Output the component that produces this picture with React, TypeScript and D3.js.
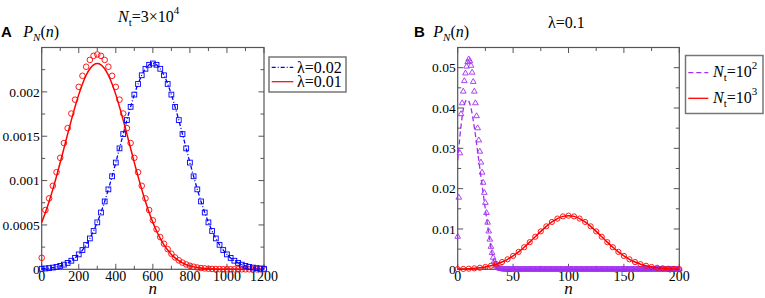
import React from "react";
import * as d3 from "d3";

// ---------- Panel A data (n step 20, 0..1200) ----------
const nA = d3.range(0, 1201, 20);
const blueA = [
  0.0000063, 0.0000093, 0.0000135, 0.0000193, 0.0000274, 0.0000383, 0.0000528, 0.0000719, 0.0000966, 0.000128,
  0.000168, 0.000217, 0.000276, 0.000348, 0.000432, 0.000529, 0.00064, 0.000765, 0.000901, 0.001048,
  0.001203, 0.001363, 0.001524, 0.001682, 0.001831, 0.001969, 0.002089, 0.002187, 0.00226, 0.002305,
  0.00232,
  0.002305, 0.00226, 0.002187, 0.002089, 0.001969, 0.001831, 0.001682, 0.001524, 0.001363, 0.001203,
  0.001048, 0.000901, 0.000765, 0.00064, 0.000529, 0.000432, 0.000348, 0.000276, 0.000217, 0.000168,
  0.000128, 0.0000966, 0.0000719, 0.0000528, 0.0000383, 0.0000274, 0.0000193, 0.0000135, 0.0000093, 0.0000063,
];
const redLineA = [
  0.000529, 0.00064, 0.000765, 0.000901, 0.001048, 0.001203, 0.001363, 0.001524, 0.001682, 0.001831,
  0.001969, 0.002089, 0.002187, 0.00226, 0.002305, 0.00232, 0.002305, 0.00226, 0.002187, 0.002089,
  0.001969, 0.001831, 0.001682, 0.001524, 0.001363, 0.001203, 0.001048, 0.000901, 0.000765, 0.00064,
  0.000529, 0.000432, 0.000348, 0.000276, 0.000217, 0.000168, 0.000128, 0.0000966, 0.0000719, 0.0000528,
  0.0000383, 0.0000274, 0.0000193, 0.0000135, 0.0000093, 0.0000063, 0.000004, 0.0000027, 0.0000017, 0.0000011,
  0.0000007, 0.0000004, 0.0000002, 0.0000001, 0.0000001, 0, 0, 0, 0, 0, 0,
];
const redPtsA = [
  0.00013, 0.000668, 0.000799, 0.000941, 0.001094, 0.001256, 0.001423, 0.001591, 0.001756, 0.001912,
  0.002056, 0.002181, 0.002283, 0.00236, 0.002406, 0.002422, 0.002406, 0.00236, 0.002283, 0.002181,
  0.002056, 0.001912, 0.001756, 0.001591, 0.001423, 0.001256, 0.001094, 0.000941, 0.000799, 0.000668,
  0.000552, 0.000451, 0.000363, 0.000288, 0.000227, 0.000175, 0.000134, 0.000101, 0.000075, 0.000055,
  0.00004, 0.000029, 0.00002, 0.000014, 0.00001, 0.0000066, 0.000004, 0.000003, 0.000002, 0.000001,
  0.0000007, 0.0000004, 0.0000002, 0.0000001, 0.0000001, 0, 0, 0, 0, 0, 0,
];
const xTicksA = [0, 200, 400, 600, 800, 1000, 1200];
const yTicksA = [0, 0.0005, 0.001, 0.0015, 0.002];
const yTickLabelsA = ["0", "0.0005", "0.001", "0.0015", "0.002"];

// ---------- Panel B data ----------
const nBred = d3.range(0, 201, 5);
const redB = [
  0.000051, 0.000088, 0.000148, 0.00024, 0.00038, 0.000584, 0.000874, 0.00127, 0.0018, 0.00248,
  0.00332, 0.00432, 0.00547, 0.00673, 0.00807, 0.0094, 0.01065, 0.01174, 0.01258, 0.01312,
  0.0133,
  0.01312, 0.01258, 0.01174, 0.01065, 0.0094, 0.00807, 0.00673, 0.00547, 0.00432, 0.00332,
  0.00248, 0.0018, 0.00127, 0.000874, 0.000584, 0.00038, 0.00024, 0.000148, 0.000088, 0.000051,
];
const nBtri = d3.range(0, 201, 1);
const purpleTri = [
  0.0081, 0.0178, 0.0288, 0.0385, 0.0412, 0.0441, 0.0467, 0.0486, 0.0503, 0.0514,
  0.0521, 0.0516, 0.0505, 0.0488, 0.0465, 0.0441, 0.0412, 0.038, 0.035, 0.032,
  0.0292, 0.0265, 0.024, 0.0215, 0.019, 0.0165, 0.014, 0.0116, 0.0094, 0.0074,
  0.0056, 0.0041, 0.0029, 0.002, 0.0013, 0.0008, 0.0005, 0.0003, 0.0002, 0.0001,
  0.0001,
  0, 0, 0, 0, 0, 0, 0, 0, 0, 0, 0, 0, 0, 0, 0, 0, 0, 0, 0, 0,
  0, 0, 0, 0, 0, 0, 0, 0, 0, 0, 0, 0, 0, 0, 0, 0, 0, 0, 0, 0,
  0, 0, 0, 0, 0, 0, 0, 0, 0, 0, 0, 0, 0, 0, 0, 0, 0, 0, 0, 0,
  0, 0, 0, 0, 0, 0, 0, 0, 0, 0, 0, 0, 0, 0, 0, 0, 0, 0, 0, 0,
  0, 0, 0, 0, 0, 0, 0, 0, 0, 0, 0, 0, 0, 0, 0, 0, 0, 0, 0, 0,
  0, 0, 0, 0, 0, 0, 0, 0, 0, 0, 0, 0, 0, 0, 0, 0, 0, 0, 0, 0,
  0, 0, 0, 0, 0, 0, 0, 0, 0, 0, 0, 0, 0, 0, 0, 0, 0, 0, 0, 0,
  0, 0, 0, 0, 0, 0, 0, 0, 0, 0, 0, 0, 0, 0, 0, 0, 0, 0, 0, 0,
];
const nBline = [
  0, 1, 2, 3, 4, 5, 6, 7, 8, 9, 10, 11, 12, 13, 14, 15, 16, 17, 18, 19,
  20, 21, 22, 23, 24, 25, 26, 27, 28, 29, 30, 31, 32, 33, 34, 35, 36, 37, 40, 200,
];
const purpleLine = [
  0.027, 0.03, 0.033, 0.0355, 0.0378, 0.0396, 0.0408, 0.0416, 0.042, 0.042,
  0.0417, 0.041, 0.04, 0.0386, 0.037, 0.0352, 0.0333, 0.0313, 0.0292, 0.0271,
  0.025, 0.0229, 0.0208, 0.0188, 0.0168, 0.0148, 0.0128, 0.0108, 0.0089, 0.0071,
  0.0054, 0.0039, 0.0027, 0.0017, 0.001, 0.0005, 0.0002, 0.0001, 0, 0,
];
const xTicksB = [0, 50, 100, 150, 200];
const yTicksB = [0, 0.01, 0.02, 0.03, 0.04, 0.05];
const yTickLabelsB = ["0", "0.01", "0.02", "0.03", "0.04", "0.05"];

const RED = "#ff0000";
const BLUE = "#0000ff";
const PURPLE = "#a030f0";
const FRAME = "#555";
const SERIF_STYLE = { fontFamily: '"Liberation Serif"' };
const SANS_STYLE = { fontFamily: '"Liberation Sans"' };

const TOP = 47.5;
const BOTTOM = 269.3;

function Frame({ x, y, xTicks, xMinor, yTicks, yMinor, yLabels }: any) {
  const [x0, x1] = x.range();
  const [y0, y1] = y.range(); // y0 bottom, y1 top
  const maj = 5.5;
  const min = 3.5;
  return (
    <g>
      <rect x={x0} y={y1} width={x1 - x0} height={y0 - y1} fill="none" stroke={FRAME} strokeWidth={1.2} />
      {xMinor.map((t: number, i: number) => {
        const isMaj = xTicks.includes(t);
        const L = isMaj ? maj : min;
        return (
          <g key={"xm" + i}>
            <line x1={x(t)} x2={x(t)} y1={y0} y2={y0 - L} stroke={FRAME} />
            <line x1={x(t)} x2={x(t)} y1={y1} y2={y1 + L} stroke={FRAME} />
          </g>
        );
      })}
      {yMinor.map((t: number, i: number) => {
        const isMaj = yTicks.some((v: number) => Math.abs(v - t) < 1e-9);
        const L = isMaj ? maj : min;
        return (
          <g key={"ym" + i}>
            <line x1={x0} x2={x0 + L} y1={y(t)} y2={y(t)} stroke={FRAME} />
            <line x1={x1} x2={x1 - L} y1={y(t)} y2={y(t)} stroke={FRAME} />
          </g>
        );
      })}
      {xTicks.map((t: number, i: number) => (
        <text key={"xl" + i} x={x(t)} y={y0 + 12} textAnchor="middle" style={SERIF_STYLE} fontSize={14}>
          {t}
        </text>
      ))}
      {yTicks.map((t: number, i: number) => (
        <text key={"yl" + i} x={x0 - 2} y={y(t) + 4.8} textAnchor="end" style={SERIF_STYLE} fontSize={13.5}>
          {yLabels[i]}
        </text>
      ))}
    </g>
  );
}

function PN({ x }: { x: number }) {
  return (
    <text x={x} y={36.7} style={SERIF_STYLE} fontSize={16}>
      <tspan fontStyle="italic">P</tspan>
      <tspan fontStyle="italic" fontSize={11} dy={4}>N</tspan>
      <tspan dy={-4}>(</tspan>
      <tspan fontStyle="italic">n</tspan>
      <tspan>)</tspan>
    </text>
  );
}

export default function App() {
  const xA = d3.scaleLinear().domain([0, 1200]).range([41.7, 264]);
  const yA = d3.scaleLinear().domain([0, 0.0025]).range([BOTTOM, TOP]);
  const xB = d3.scaleLinear().domain([0, 200]).range([457.7, 679.3]);
  const yB = d3.scaleLinear().domain([0, 0.055]).range([BOTTOM, TOP]);

  const lineA = d3
    .line<number>()
    .x((_, i) => xA(nA[i]))
    .y((v) => yA(v))
    .curve(d3.curveMonotoneX);
  const lineBred = d3
    .line<number>()
    .x((_, i) => xB(nBred[i]))
    .y((v) => yB(v))
    .curve(d3.curveMonotoneX);
  const lineBpur = d3
    .line<number>()
    .x((_, i) => xB(nBline[i]))
    .y((v) => yB(v))
    .curve(d3.curveMonotoneX);

  const tri = d3.symbol().type(d3.symbolTriangle).size(14)();

  return (
    <svg width={765} height={298} style={{ position: "absolute", left: 0, top: 0 }}>
      <rect width={765} height={298} fill="#fff" />
      {/* ---------------- Panel A ---------------- */}
      <text x={1} y={36.7} style={SANS_STYLE} fontWeight="bold" fontSize={15}>A</text>
      <PN x={23.3} />
      <text x={118} y={22.3} style={SERIF_STYLE} fontSize={16}>
        <tspan fontStyle="italic">N</tspan>
        <tspan fontSize={11} dy={4}>t</tspan>
        <tspan dy={-4}>=3×10</tspan>
        <tspan fontSize={11} dy={-8}>4</tspan>
      </text>
      <Frame
        x={xA}
        y={yA}
        xTicks={xTicksA}
        xMinor={d3.range(0, 1201, 100)}
        yTicks={yTicksA}
        yMinor={d3.range(0, 0.0025001, 0.00025)}
        yLabels={yTickLabelsA}
      />
      <g>
        <path d={lineA(redLineA) || ""} fill="none" stroke={RED} strokeWidth={1.5} />
        <path d={lineA(blueA) || ""} fill="none" stroke={BLUE} strokeWidth={1.3} strokeDasharray="4,2,1,2" />
        {redPtsA.map((v, i) => (
          <circle key={"ra" + i} cx={xA(nA[i])} cy={yA(v)} r={2.8} fill="none" stroke={RED} strokeWidth={0.9} />
        ))}
        {blueA.map((v, i) => (
          <rect key={"ba" + i} x={xA(nA[i]) - 2.4} y={yA(v) - 2.4} width={4.8} height={4.8} fill="none" stroke={BLUE} strokeWidth={0.9} />
        ))}
      </g>
      <text x={xA(600)} y={293.5} textAnchor="middle" style={SERIF_STYLE} fontStyle="italic" fontSize={17}>n</text>
      {/* Legend A */}
      <rect x={269} y={57} width={77} height={35} fill="#fff" stroke="#777" strokeWidth={1.5} />
      <line x1={271.7} x2={293.3} y1={67.3} y2={67.3} stroke={BLUE} strokeWidth={1.2} strokeDasharray="4,2,1,2" />
      <text x={297} y={72.5} style={SERIF_STYLE} fontSize={16}>λ=0.02</text>
      <line x1={271.7} x2={293.3} y1={81.7} y2={81.7} stroke={RED} strokeWidth={1.2} />
      <text x={297} y={87} style={SERIF_STYLE} fontSize={16}>λ=0.01</text>

      {/* ---------------- Panel B ---------------- */}
      <text x={414} y={36.7} style={SANS_STYLE} fontWeight="bold" fontSize={15}>B</text>
      <PN x={433.3} />
      <text x={548} y={28} style={SERIF_STYLE} fontSize={16}>λ=0.1</text>
      <Frame
        x={xB}
        y={yB}
        xTicks={xTicksB}
        xMinor={d3.range(0, 201, 25)}
        yTicks={yTicksB}
        yMinor={d3.range(0, 0.0550001, 0.005)}
        yLabels={yTickLabelsB}
      />
      <g>
        <path d={lineBpur(purpleLine) || ""} fill="none" stroke={PURPLE} strokeWidth={1.3} strokeDasharray="5,3" />
        {purpleTri.map((v, i) => (
          <path key={"pt" + i} d={tri || ""} transform={`translate(${xB(nBtri[i])},${yB(v)})`} fill="none" stroke={PURPLE} strokeWidth={0.9} />
        ))}
        <path d={lineBred(redB) || ""} fill="none" stroke={RED} strokeWidth={1.5} />
        {redB.map((v, i) => (
          <circle key={"rb" + i} cx={xB(nBred[i])} cy={yB(v)} r={2.6} fill="none" stroke={RED} strokeWidth={0.9} />
        ))}
      </g>
      <text x={xB(100)} y={293.5} textAnchor="middle" style={SERIF_STYLE} fontStyle="italic" fontSize={17}>n</text>
      {/* Legend B */}
      <rect x={685.5} y={55.5} width={77.5} height={58} fill="#fff" stroke="#777" strokeWidth={1.5} />
      <line x1={688.3} x2={708.3} y1={72.7} y2={72.7} stroke={PURPLE} strokeWidth={1.3} strokeDasharray="5,3" />
      <text x={713} y={77} style={SERIF_STYLE} fontSize={16}>
        <tspan fontStyle="italic">N</tspan>
        <tspan fontSize={11} dy={4}>t</tspan>
        <tspan dy={-4}>=10</tspan>
        <tspan fontSize={11} dy={-8}>2</tspan>
      </text>
      <line x1={688.3} x2={708.3} y1={98.3} y2={98.3} stroke={RED} strokeWidth={1.3} />
      <text x={713} y={103} style={SERIF_STYLE} fontSize={16}>
        <tspan fontStyle="italic">N</tspan>
        <tspan fontSize={11} dy={4}>t</tspan>
        <tspan dy={-4}>=10</tspan>
        <tspan fontSize={11} dy={-8}>3</tspan>
      </text>
    </svg>
  );
}
